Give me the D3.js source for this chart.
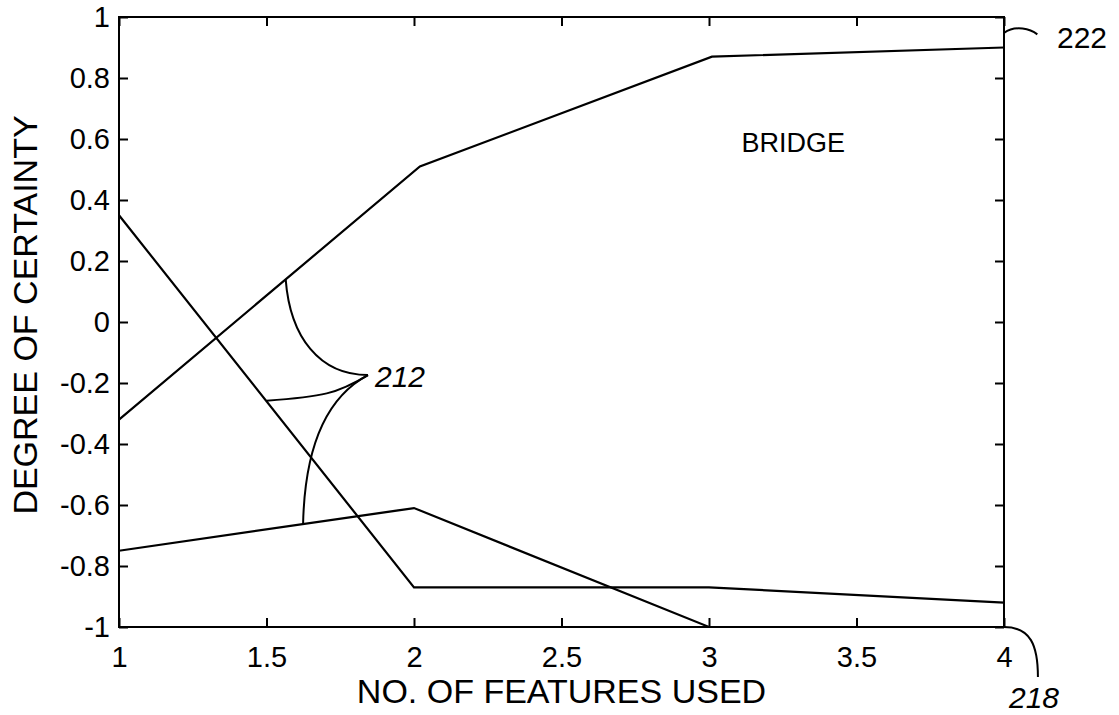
<!DOCTYPE html>
<html>
<head>
<meta charset="utf-8">
<script src="https://cdn.jsdelivr.net/npm/d3@7"></script>
<style>
  body { margin: 0; background: #fff; }
  svg { display: block; font-family: "Liberation Sans", Arial, sans-serif; }
  .axis-line { fill: none; stroke: #000; stroke-width: 2; }
  .curve { fill: none; stroke: #000; stroke-width: 2.2; }
  .leader { fill: none; stroke: #000; stroke-width: 2; }
</style>
</head>
<body>
<div id="chart"></div>
<script>
const width = 1119,
  height = 715,
  margin = { top: 17, right: 115, bottom: 88, left: 119 },
  tickLen = 9;

// data
const featuresA = [1, 2.02, 3.01, 4];
const certaintyA = [-0.32, 0.51, 0.87, 0.90];   // line 222

const featuresB = [1, 2, 3, 4];
const certaintyB = [0.35, -0.87, -0.87, -0.92];  // line 218

const featuresC = [1, 2, 3, 4];
const certaintyC = [-0.75, -0.61, -1.0, -1.0];

const xTicks = [1, 1.5, 2, 2.5, 3, 3.5, 4];
const yTicks = [-1, -0.8, -0.6, -0.4, -0.2, 0, 0.2, 0.4, 0.6, 0.8, 1];

// annotation "212" leader curves, in data units
const tip212 = [1.844, -0.174];
const leaders212 = [
  [[1.565, 0.14], [1.58, -0.05], [1.68, -0.174], tip212],
  [[1.50, -0.258], [1.69, -0.245], [1.74, -0.235], tip212],
  [tip212, [1.715, -0.24], [1.63, -0.387], [1.624, -0.663]]
];

const svg = d3.select("#chart").append("svg")
  .attr("width", width)
  .attr("height", height);

const x = d3.scaleLinear().domain([1, 4]).range([margin.left, width - margin.right]);
const y = d3.scaleLinear().domain([-1, 1]).range([height - margin.bottom, margin.top]);

const fmt = d => d3.format("")(d).replace("\u2212", "-");

// axes, ticks pointing inward on all four sides
svg.append("g")
  .attr("transform", `translate(0,${y(-1)})`)
  .call(d3.axisBottom(x).tickValues(xTicks).tickSize(-tickLen).tickPadding(19).tickFormat(fmt))
  .call(g => g.select(".domain").remove())
  .call(g => g.selectAll("line").attr("stroke", "#000").attr("stroke-width", 2))
  .call(g => g.selectAll("text").attr("font-size", 29).attr("fill", "#000").attr("font-family", null));

svg.append("g")
  .attr("transform", `translate(0,${y(1)})`)
  .call(d3.axisTop(x).tickValues(xTicks).tickSize(-tickLen).tickFormat(""))
  .call(g => g.select(".domain").remove())
  .call(g => g.selectAll("line").attr("stroke", "#000").attr("stroke-width", 2));

svg.append("g")
  .attr("transform", `translate(${x(1)},0)`)
  .call(d3.axisLeft(y).tickValues(yTicks).tickSize(-tickLen).tickPadding(9).tickFormat(fmt))
  .call(g => g.select(".domain").remove())
  .call(g => g.selectAll("line").attr("stroke", "#000").attr("stroke-width", 2))
  .call(g => g.selectAll("text").attr("font-size", 29).attr("fill", "#000").attr("font-family", null));

svg.append("g")
  .attr("transform", `translate(${x(4)},0)`)
  .call(d3.axisRight(y).tickValues(yTicks).tickSize(-tickLen).tickFormat(""))
  .call(g => g.select(".domain").remove())
  .call(g => g.selectAll("line").attr("stroke", "#000").attr("stroke-width", 2));

svg.append("rect")
  .attr("class", "axis-line")
  .attr("x", x(1))
  .attr("y", y(1))
  .attr("width", x(4) - x(1))
  .attr("height", y(-1) - y(1));

// series
const line = d3.line().x(d => x(d[0])).y(d => y(d[1]));
const series = [
  d3.zip(featuresA, certaintyA),
  d3.zip(featuresB, certaintyB),
  d3.zip(featuresC, certaintyC)
];
svg.selectAll(".curve")
  .data(series)
  .join("path")
  .attr("class", "curve")
  .attr("d", line);

// axis titles
svg.append("text")
  .attr("x", (x(1) + x(4)) / 2)
  .attr("y", 703)
  .attr("text-anchor", "middle")
  .attr("font-size", 34)
  .text("NO. OF FEATURES USED");

svg.append("text")
  .attr("transform", `translate(37,${(y(1) + y(-1)) / 2 - 7}) rotate(-90)`)
  .attr("text-anchor", "middle")
  .attr("font-size", 34)
  .text("DEGREE OF CERTAINTY");

svg.append("text")
  .attr("x", x(3.11))
  .attr("y", y(0.6) + 13)
  .attr("font-size", 27)
  .text("BRIDGE");

// annotation 212
const cubic = p => {
  const pts = p.map(d => [x(d[0]), y(d[1])]);
  return `M${pts[0]}C${pts[1]} ${pts[2]} ${pts[3]}`;
};
svg.selectAll(".leader212")
  .data(leaders212)
  .join("path")
  .attr("class", "leader")
  .attr("d", cubic);

svg.append("text")
  .attr("x", x(tip212[0]) + 7)
  .attr("y", y(tip212[1]) + 12)
  .attr("font-size", 30)
  .attr("font-style", "italic")
  .text("212");

// annotation 222
svg.append("path")
  .attr("class", "leader")
  .attr("d", cubic([[4, 0.948], [4.04, 0.975], [4.09, 0.96], [4.113, 0.943]]));
svg.append("text")
  .attr("x", x(4) + 53)
  .attr("y", y(0.948) + 15)
  .attr("font-size", 30)
  .text("222");

// annotation 218
svg.append("path")
  .attr("class", "leader")
  .attr("d", cubic([[4, -1], [4.09, -1], [4.115, -1.06], [4.115, -1.164]]));
svg.append("text")
  .attr("x", x(4) + 5)
  .attr("y", 708)
  .attr("font-size", 30)
  .attr("font-style", "italic")
  .text("218");
</script>
</body>
</html>
